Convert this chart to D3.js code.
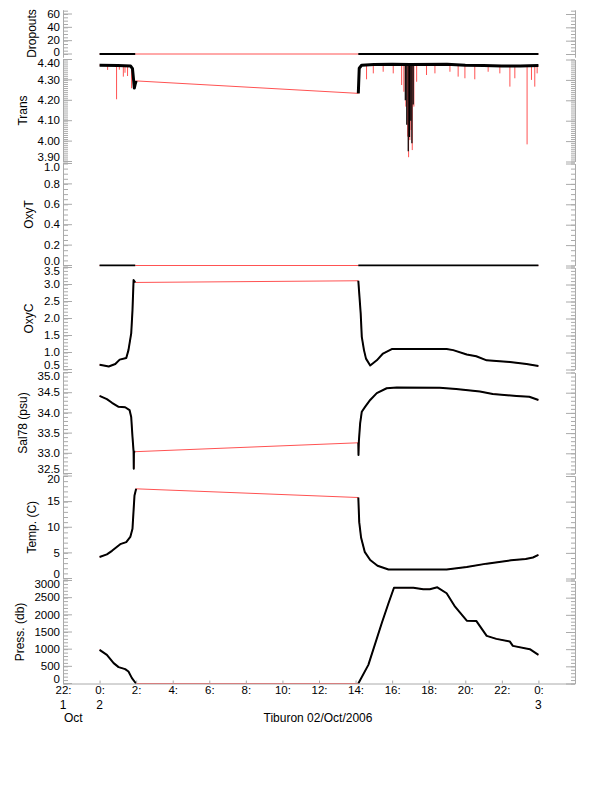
<!DOCTYPE html>
<html>
<head>
<meta charset="utf-8">
<script src="https://cdn.jsdelivr.net/npm/d3@7"></script>
<style>
body { margin: 0; background: #fff; }
text { font-family: 'Liberation Sans', Arial, sans-serif; font-size: 12px; fill: #000; }
</style>
</head>
<body>
<script>
// time is in hours from 0:00 on 2 Oct 2006
var hourTicks = [-2, 0, 2, 4, 6, 8, 10, 12, 14, 16, 18, 20, 22, 24]
var hourLabels = ['22:', '0:', '2:', '4:', '6:', '8:', '10:', '12:', '14:', '16:', '18:', '20:', '22:', '0:']
var dayTicks = [-2, 0, 24]
var dayLabels = ['1', '2', '3']
var title = 'Tiburon 02/Oct/2006'

var dropLeft = [[0, 0], [1.95, 0]]
var dropRight = [[14.15, 0], [24, 0]]

var transLeft = [[0, 4.372], [1.0, 4.371], [1.7, 4.368], [1.8, 4.355], [1.86, 4.30], [1.9, 4.26], [1.95, 4.28], [2.0, 4.295]]
var transRight = [[14.15, 4.234], [14.2, 4.357], [14.33, 4.372], [15, 4.375], [16, 4.377], [17, 4.376], [19, 4.377],
  [20, 4.372], [21, 4.370], [22, 4.368], [23, 4.368], [24, 4.370]]
// downward spikes in the raw transmission (time, lowest value)
var transSpikes = [[0.44, 4.349], [0.93, 4.205], [1.08, 4.35], [1.30, 4.316], [1.39, 4.335], [1.53, 4.319], [1.75, 4.259],
  [14.60, 4.303], [14.97, 4.332], [15.51, 4.340], [16.06, 4.332], [16.52, 4.275], [16.64, 4.242], [16.75, 4.169],
  [16.85, 4.022], [16.90, 3.921], [16.97, 4.005], [17.03, 4.054], [17.10, 3.956], [17.19, 4.169], [17.34, 4.291],
  [17.88, 4.324], [18.34, 4.332], [19.16, 4.340], [19.61, 4.316], [19.98, 4.308], [20.52, 4.303], [21.25, 4.340],
  [21.89, 4.332], [22.44, 4.267], [22.71, 4.308], [23.38, 3.984], [23.62, 4.300], [23.80, 4.267], [23.93, 4.332]]
var transBlackSpikes = [[16.72, 4.20], [16.8, 4.08], [16.88, 3.95], [16.95, 4.02], [17.02, 4.10], [17.08, 3.99], [17.15, 4.18]]

var oxyTLeft = [[0, 0], [1.95, 0]]
var oxyTRight = [[14.15, 0], [24, 0]]

var oxyCLeft = [[0, 0.64], [0.3, 0.61], [0.5, 0.59], [0.86, 0.66], [1.1, 0.79], [1.46, 0.84], [1.58, 1.07], [1.73, 1.56],
  [1.8, 2.24], [1.86, 3.13], [1.95, 3.06]]
var oxyCRight = [[14.15, 3.11], [14.2, 2.74], [14.28, 2.15], [14.34, 1.46], [14.46, 1.07], [14.57, 0.82], [14.8, 0.62],
  [15.16, 0.77], [15.5, 0.97], [15.98, 1.1], [18.98, 1.1], [19.34, 1.07], [20.08, 0.94], [20.6, 0.89], [21.17, 0.77],
  [21.7, 0.75], [22.44, 0.72], [23.35, 0.66], [24, 0.6]]

var salLeft = [[0, 34.42], [0.4, 34.34], [0.68, 34.25], [1.04, 34.15], [1.4, 34.14], [1.64, 34.07], [1.73, 33.9],
  [1.8, 33.41], [1.86, 33.04], [1.87, 32.62], [1.88, 33.04], [1.95, 33.04]]
var salRight = [[14.15, 33.26], [14.16, 32.96], [14.18, 33.3], [14.25, 33.74], [14.34, 34.03], [14.52, 34.15],
  [14.8, 34.32], [15.16, 34.49], [15.7, 34.61], [16.25, 34.63], [18.6, 34.62], [19.5, 34.59], [20.8, 34.53],
  [21.5, 34.47], [22.8, 34.42], [23.5, 34.4], [24, 34.32]]

var tempLeft = [[0, 4.2], [0.4, 4.7], [0.68, 5.4], [1.13, 6.7], [1.46, 7.1], [1.68, 8.1], [1.8, 9.7], [1.86, 13.3],
  [1.91, 16.2], [2.0, 17.5]]
var tempRight = [[14.15, 15.8], [14.2, 11], [14.3, 8], [14.5, 5.2], [14.8, 3.6], [15.2, 2.5], [15.8, 1.75],
  [18.98, 1.75], [20.08, 2.25], [21.17, 2.9], [22.5, 3.55], [23.3, 3.8], [23.7, 4.1], [24, 4.6]]

var pressLeft = [[0, 980], [0.4, 834], [0.77, 593], [1.04, 477], [1.4, 419], [1.58, 349], [1.77, 157], [1.95, 29], [2.0, 0]]
var pressRight = [[14.15, 0], [14.7, 543], [15.43, 1756], [15.8, 2337], [16.1, 2790], [17.16, 2790], [17.7, 2744],
  [18.06, 2744], [18.47, 2802], [18.98, 2628], [19.44, 2238], [20.08, 1831], [20.6, 1823], [21.17, 1387],
  [21.7, 1300], [22.44, 1221], [22.6, 1096], [23.53, 1000], [24, 834]]

var panelNames = ['Dropouts', 'Trans', 'OxyT', 'OxyC', 'Sal78 (psu)', 'Temp. (C)', 'Press. (db)']
var panelDomains = [[-4.5, 66], [3.90, 4.40], [0, 1], [0.5, 3.5], [32.5, 35.0], [0, 20], [0, 3000]]
var panelMajors = [[0, 20, 40, 60], [3.9, 4.0, 4.1, 4.2, 4.3, 4.4], [0, 0.2, 0.4, 0.6, 0.8, 1.0],
  [0.5, 1.0, 1.5, 2.0, 2.5, 3.0, 3.5], [32.5, 33.0, 33.5, 34.0, 34.5, 35.0], [0, 5, 10, 15, 20],
  [0, 500, 1000, 1500, 2000, 2500, 3000]]
var panelMinorStep = [5, 0.01, 0.05, 0.1, 0.1, 1, 100]
var panelFormats = ['d', '.2f', '.1f', '.1f', '.1f', 'd', 'd']
var panelLeft = [dropLeft, transLeft, oxyTLeft, oxyCLeft, salLeft, tempLeft, pressLeft]
var panelRight = [dropRight, transRight, oxyTRight, oxyCRight, salRight, tempRight, pressRight]

// layout
var width = 612
var height = 785
var plotLeft = 63
var plotRight = 575
var panelTop = [10, 59.5, 163.5, 267.5, 372.5, 476, 580.5]
var panelBottom = [57, 161.5, 265.5, 369.5, 473.5, 578.5, 683.5]
var axisColor = '#aaa'
var redColor = '#ff5252'
var tickFont = '11.5px'

var svg = d3.select('body').append('svg')
  .attr('width', width)
  .attr('height', height)

var x = d3.scaleLinear().domain([-2, 26]).range([plotLeft, plotRight])

panelNames.forEach(function(name, i) {
  drawPanel(i)
})
drawTimeAxis()

function drawPanel(i) {
  var top = panelTop[i]
  var bottom = panelBottom[i]
  var domain = panelDomains[i]
  var y = d3.scaleLinear().domain(domain).range([bottom, top])

  var minors = d3.range(Math.ceil(domain[0] / panelMinorStep[i] - 1e-6), Math.floor(domain[1] / panelMinorStep[i] + 1e-6) + 1)
    .map(function(k) { return k * panelMinorStep[i] })

  // left axis, ticks pointing into the plot
  svg.append('g')
    .attr('transform', 'translate(' + plotLeft + ',0)')
    .call(d3.axisLeft(y).tickValues(minors).tickSizeInner(-5).tickSizeOuter(0).tickFormat(''))
    .call(styleAxis)

  var left = svg.append('g')
    .attr('transform', 'translate(' + plotLeft + ',0)')
    .call(d3.axisLeft(y).tickValues(panelMajors[i]).tickSizeInner(-9).tickSizeOuter(0).tickPadding(3)
      .tickFormat(d3.format(panelFormats[i])))
    .call(styleAxis)

  // keep the edge labels inside the panel
  function labelY(d) {
    return Math.max(top + 3.5, Math.min(bottom - 4.5, y(d)))
  }
  left.selectAll('.tick').attr('transform', function(d) {
    return 'translate(0,' + labelY(d) + ')'
  })
  left.selectAll('.tick line').attr('transform', function(d) {
    return 'translate(0,' + (y(d) - labelY(d)) + ')'
  })

  var maxW = 0
  left.selectAll('text').each(function() {
    maxW = Math.max(maxW, this.getComputedTextLength())
  })

  // right axis
  svg.append('g')
    .attr('transform', 'translate(' + plotRight + ',0)')
    .call(d3.axisRight(y).tickValues(minors).tickSizeInner(-4).tickSizeOuter(0).tickFormat(''))
    .call(styleAxis)
  svg.append('g')
    .attr('transform', 'translate(' + plotRight + ',0)')
    .call(d3.axisRight(y).tickValues(panelMajors[i]).tickSizeInner(-9).tickSizeOuter(0).tickFormat(''))
    .call(styleAxis)

  svg.append('text')
    .attr('transform', 'translate(' + (60 - maxW - 15) + ',' + ((top + bottom) / 2) + ')rotate(-90)')
    .attr('text-anchor', 'middle')
    .attr('dy', '0.35em')
    .text(panelNames[i])

  var clipId = 'clip' + i
  svg.append('clipPath').attr('id', clipId)
    .append('rect')
    .attr('x', plotLeft).attr('y', top - 1)
    .attr('width', plotRight - plotLeft).attr('height', bottom - top + 2)

  var g = svg.append('g').attr('clip-path', 'url(#' + clipId + ')')
  var line = d3.line()
    .x(function(d) { return x(d[0]) })
    .y(function(d) { return y(d[1]) })

  var seg1 = panelLeft[i]
  var seg2 = panelRight[i]

  // raw data, including the gap, in red
  g.append('path')
    .attr('d', line(seg1.concat(seg2)))
    .attr('fill', 'none')
    .attr('stroke', redColor)
    .attr('stroke-width', 1)

  if (i === 1) {
    transSpikes.forEach(function(s) {
      g.append('path')
        .attr('d', line([[s[0], transBase(s[0])], s]))
        .attr('stroke', redColor)
        .attr('stroke-width', 1)
    })
  }

  // good points in black
  ;[seg1, seg2].forEach(function(seg) {
    g.append('path')
      .attr('d', line(seg))
      .attr('fill', 'none')
      .attr('stroke', '#000')
      .attr('stroke-width', i === 1 ? 3 : 2)
      .attr('stroke-linejoin', 'round')
  })

  if (i === 1) {
    transBlackSpikes.forEach(function(s) {
      g.append('path')
        .attr('d', line([[s[0], transBase(s[0])], s]))
        .attr('stroke', '#000')
        .attr('stroke-width', 1.2)
    })
  }
}

function transBase(t) {
  var arr = t < 8 ? transLeft : transRight
  var j = d3.bisector(function(d) { return d[0] }).left(arr, t)
  if (j <= 0) return arr[0][1]
  if (j >= arr.length) return arr[arr.length - 1][1]
  var a = arr[j - 1]
  var b = arr[j]
  return a[1] + (b[1] - a[1]) * (t - a[0]) / (b[0] - a[0])
}

function drawTimeAxis() {
  var bottom = panelBottom[panelBottom.length - 1]
  svg.append('g')
    .attr('transform', 'translate(0,' + bottom + ')')
    .call(d3.axisBottom(x).tickValues(hourTicks).tickSizeInner(-3).tickSizeOuter(0).tickPadding(2.5)
      .tickFormat(function(d, i) { return hourLabels[i] }))
    .call(styleAxis)

  svg.append('g').selectAll('text')
    .data(dayTicks)
    .enter()
    .append('text')
    .attr('x', function(d) { return x(d) })
    .attr('y', bottom + 25.5)
    .attr('text-anchor', 'middle')
    .text(function(d, i) { return dayLabels[i] })

  svg.append('text')
    .attr('x', x(-2) + 1)
    .attr('y', bottom + 38)
    .text('Oct')

  svg.append('text')
    .attr('x', (plotLeft + plotRight) / 2 - 1)
    .attr('y', bottom + 38.5)
    .attr('text-anchor', 'middle')
    .text(title)
}

function styleAxis(sel) {
  sel.select('.domain').attr('stroke', axisColor)
  sel.selectAll('.tick line').attr('stroke', axisColor)
  sel.selectAll('.tick text')
    .attr('fill', '#000')
    .style('font-family', "'Liberation Sans', Arial, sans-serif")
    .style('font-size', tickFont)
}
</script>
</body>
</html>
